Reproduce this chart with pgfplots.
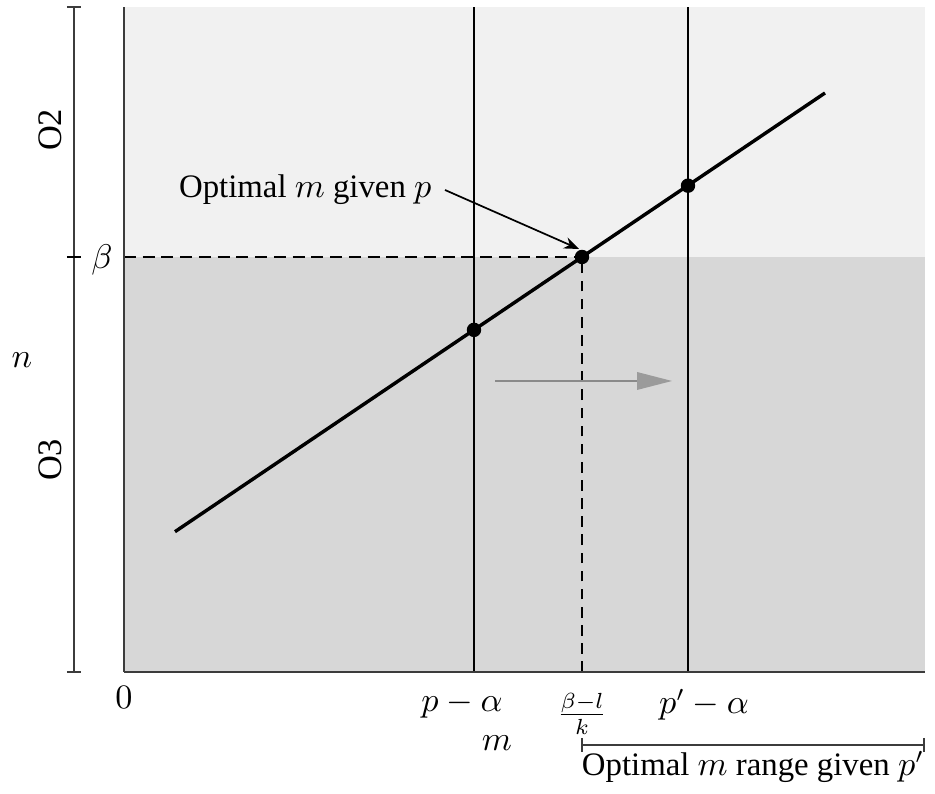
\documentclass[border=0pt]{standalone}
\usepackage{fontspec}
\setmainfont{Liberation Serif}
\usepackage{pgfplots}
\pgfplotsset{compat=1.18}
\usetikzlibrary{arrows.meta}

\definecolor{regionhigh}{RGB}{241,241,241}
\definecolor{regionlow}{RGB}{215,215,215}
\definecolor{spine}{RGB}{60,60,60}
\definecolor{shiftgray}{RGB}{138,138,138}
\definecolor{shifthead}{RGB}{155,155,155}

\begin{document}
\begin{tikzpicture}
\begin{axis}[
  scale only axis,
  width=256.32pt, height=212.8pt,
  xmin=0, xmax=801, ymin=0, ymax=665,
  axis x line=bottom, axis y line=left,
  axis line style={-, spine, line width=0.6pt},
  ticks=none,
  clip=false,
  axis on top,
]
% outer frame of the figure
\path (axis cs:-124,-119) rectangle (axis cs:811,672);

% regions O3 (below beta) and O2 (above beta)
\addplot[draw=none, fill=regionlow] coordinates {(0,0) (801,0) (801,415) (0,415)} -- cycle;
\addplot[draw=none, fill=regionhigh] coordinates {(0,415) (801,415) (801,665) (0,665)} -- cycle;

% vertical lines m = p - alpha and m = p' - alpha
\addplot[black, line width=0.95pt] coordinates {(350,0) (350,665)};
\addplot[black, line width=0.95pt] coordinates {(564,0) (564,665)};

% beta level and its crossing
\addplot[black, line width=0.85pt, dash pattern=on 3.8pt off 2.2pt] coordinates {(0,415) (458,415)};
\addplot[black, line width=0.65pt, dash pattern=on 3.4pt off 2.4pt] coordinates {(458,0) (458,415)};

% n = l + k m
\addplot[black, line width=1.1pt] coordinates {(51,140.3) (701,579.0)};

% marked points
\addplot[only marks, mark=*, mark size=2.1pt, black] coordinates {(350,342.1) (458,415) (564,486.3)};

% shift from p to p'
\addplot[shiftgray, line width=0.55pt] coordinates {(371,291) (518,291)};
\addplot[draw=none, fill=shifthead] coordinates {(513,300) (548,291) (513,282)} -- cycle;

% annotation
\node[anchor=east, font=\fontsize{10.5}{12}\selectfont, inner sep=0pt] at (axis cs:308,482) {Optimal $m$ given $p$};
\draw[-{Stealth[length=4.8pt, width=3.8pt]}, line width=0.55pt] (axis cs:321,482) -- (axis cs:455,423);

% left scale
\draw[spine, line width=0.6pt] (axis cs:-50,0) -- (axis cs:-50,665);
\draw[spine, line width=0.6pt] (axis cs:-57,0) -- (axis cs:-43,0);
\draw[spine, line width=0.6pt] (axis cs:-57,665) -- (axis cs:-43,665);
\draw[black, line width=0.85pt] (axis cs:-57,415) -- (axis cs:-43,415);
\node[rotate=90, font=\fontsize{11}{13}\selectfont] at (axis cs:-74,542) {O2};
\node[rotate=90, font=\fontsize{11}{13}\selectfont] at (axis cs:-74,212) {O3};
\node[font=\fontsize{10.5}{12}\selectfont] at (axis cs:-102,312) {$n$};
\node[font=\fontsize{10.5}{12}\selectfont] at (axis cs:-22,412) {$\beta$};

% bottom labels
\node[font=\fontsize{10.5}{12}\selectfont] at (axis cs:0,-25) {$0$};
\node[font=\fontsize{10.5}{12}\selectfont] at (axis cs:338,-33) {$p-\alpha$};
\node[font=\fontsize{10.5}{12}\selectfont] at (axis cs:458,-42) {$\frac{\beta-l}{k}$};
\node[font=\fontsize{10.5}{12}\selectfont] at (axis cs:580,-33) {$p'-\alpha$};
\node[font=\fontsize{10.5}{12}\selectfont] at (axis cs:373,-71) {$m$};

% range bracket
\draw[spine, line width=0.5pt] (axis cs:458,-73) -- (axis cs:800,-73);
\draw[spine, line width=0.5pt] (axis cs:458,-66) -- (axis cs:458,-80);
\draw[spine, line width=0.5pt] (axis cs:800,-66) -- (axis cs:800,-80);
\node[font=\fontsize{10.5}{12}\selectfont] at (axis cs:629,-95) {Optimal $m$ range given $p'$};
\end{axis}
\end{tikzpicture}
\end{document}
